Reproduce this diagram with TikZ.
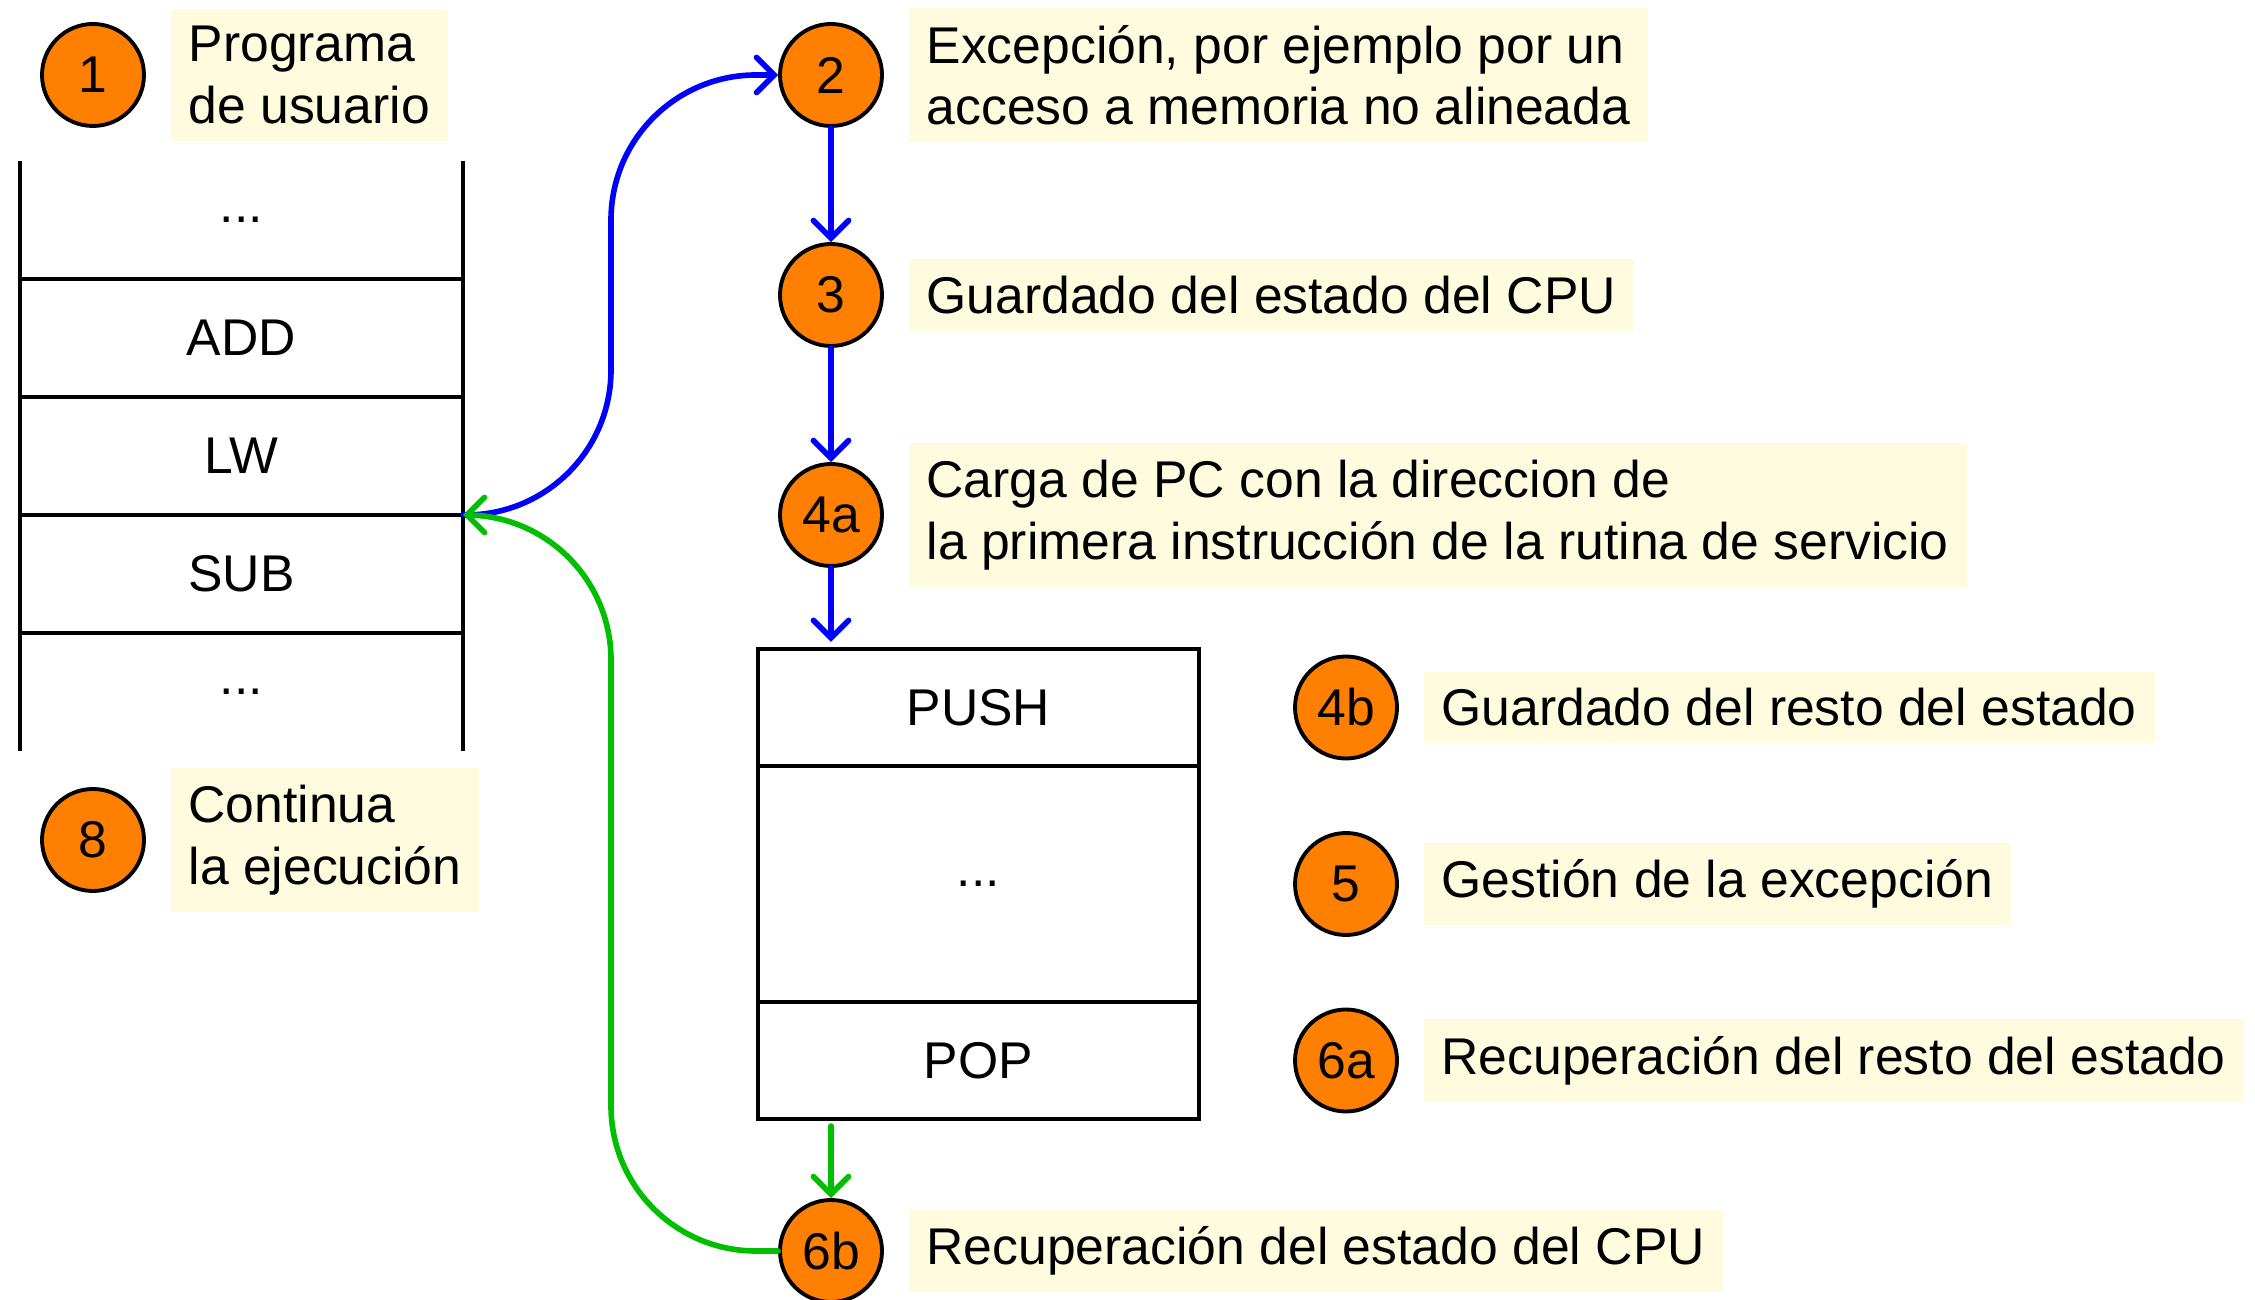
\documentclass[tikz,border=0pt]{standalone}
\usepackage{fontspec}
\setmainfont{Liberation Sans}
\usetikzlibrary{positioning,arrows.meta}
\definecolor{stepfill}{RGB}{255,128,0}
\definecolor{notefill}{RGB}{255,251,222}
\definecolor{flowblue}{RGB}{0,0,255}
\definecolor{flowgreen}{RGB}{0,190,0}
\begin{document}
\begin{tikzpicture}[font=\fontsize{14.7}{17.5}\selectfont,
  num/.style={circle, draw, line width=1.1pt, fill=stepfill, minimum size=1.02cm, inner sep=0pt},
  note/.style={fill=notefill, align=left, inner xsep=0.18cm, inner ysep=0.17cm},
  cell/.style={minimum width=4.43cm, minimum height=1.18cm, inner sep=0pt, outer sep=0pt},
  box/.style={cell, draw, line width=1.1pt, minimum width=4.41cm, minimum height=1.17cm},
  flow/.style={line width=1.6pt, line cap=round, -{Straight Barb[length=5pt,width=10pt,line cap=round]}}]
\useasboundingbox (0,0) rectangle (22.55,12.99);
% programa de usuario
\node[num] (c1) at (0.93,12.24) {1};
\node[note, right=0.24cm of c1] (l1) {Programa\\de usuario};
\node[cell] (u0) at (2.415,10.79) {...};
\node[cell, below=0pt of u0] (u1) {ADD};
\node[cell, below=0pt of u1] (u2) {LW};
\node[cell, below=0pt of u2] (u3) {SUB};
\node[cell, below=0pt of u3] (u4) {...};
\draw[line width=1.1pt] (u0.north west) -- (u4.south west);
\draw[line width=1.1pt] (u0.north east) -- (u4.south east);
\foreach \c in {u0,u1,u2,u3}
  \draw[line width=1.1pt] (\c.south west) -- (\c.south east);
\node[num] (c8) at (0.93,4.59) {8};
\node[note, right=0.24cm of c8] (l8) {Continua\\la ejecución};
% rutina de servicio
\node[box] (push) at (9.785,5.915) {PUSH};
\node[box, minimum height=2.36cm, below=0pt of push] (body) {...};
\node[box, below=0pt of body] (pop) {POP};
\node[num] (c2) at (8.31,12.24) {2};
\node[note, right=0.24cm of c2] (l2) {Excepción, por ejemplo por un\\acceso a memoria no alineada};
\node[num] (c3) at (8.31,10.04) {3};
\node[note, right=0.24cm of c3] (l3) {Guardado del estado del CPU};
\node[num] (c4a) at (8.31,7.84) {4a};
\node[note, right=0.24cm of c4a] (l4a) {Carga de PC con la direccion de\\la primera instrucción de la rutina de servicio};
\node[num] (c4b) at (13.46,5.915) {4b};
\node[note, right=0.24cm of c4b] (l4b) {Guardado del resto del estado};
\node[num] (c5) at (13.46,4.15) {5};
\node[note, right=0.24cm of c5] (l5) {Gestión de la excepción};
\node[num] (c6a) at (13.46,2.385) {6a};
\node[note, right=0.24cm of c6a] (l6a) {Recuperación del resto del estado};
\node[num] (c6b) at (8.31,0.48) {6b};
\node[note, right=0.24cm of c6b] (l6b) {Recuperación del estado del CPU};
\coordinate (rail) at (6.11,7.84);
\draw[flow, flowblue] (c2) -- (c3);
\draw[flow, flowblue] (c3) -- (c4a);
\draw[flow, flowblue, shorten >=2pt] (c4a) -- (c4a |- push.north);
\draw[flow, flowgreen, shorten <=2pt] (c4a |- pop.south) -- (c6b);
\draw[flow, flowblue, rounded corners=1.45cm] (u2.south east) -| (rail |- c2.west) -- (c2.west);
\draw[flow, flowgreen, rounded corners=1.45cm] (c6b.west) -| (rail) -- (u2.south east);
\end{tikzpicture}
\end{document}
